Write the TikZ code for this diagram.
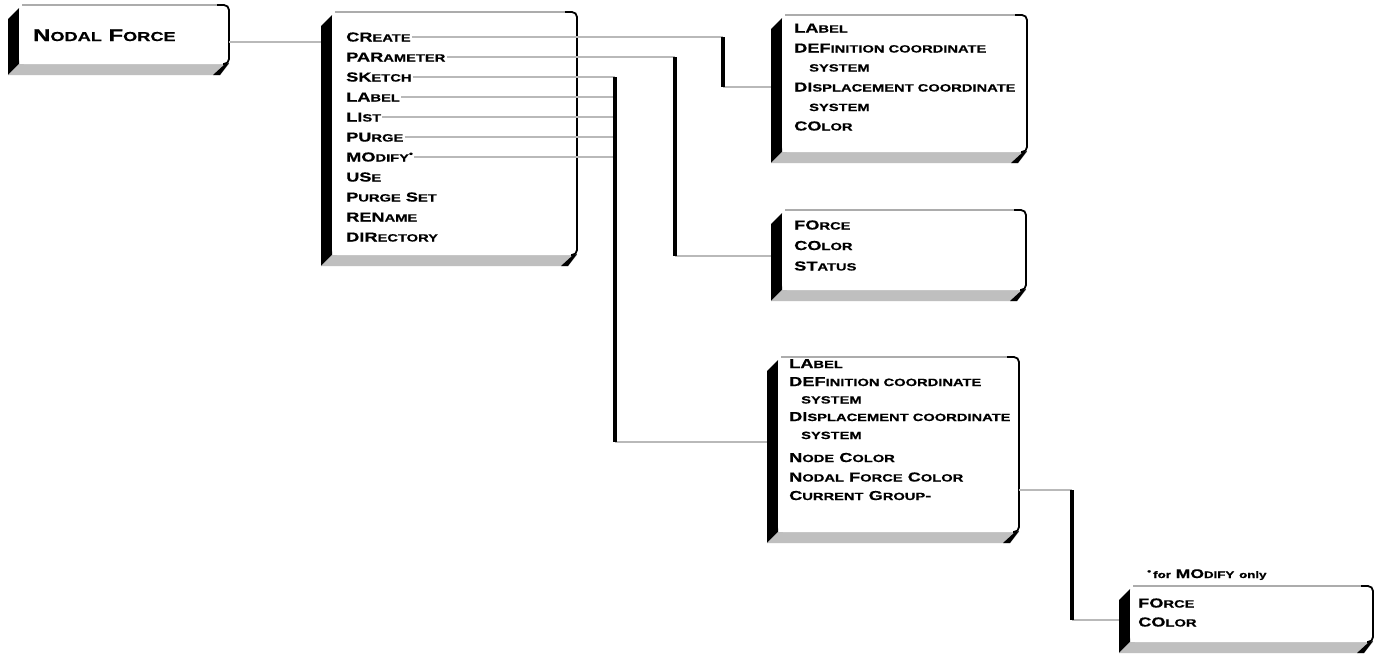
\documentclass[tikz,border=0pt]{standalone}
\usepackage{fontspec}
\setmainfont[FakeStretch=1.4, BoldFeatures={FakeBold=0.6}]{Liberation Sans}
\usetikzlibrary{calc}
\newcommand\sm[1]{{\fontsize{10.5}{10.5}\selectfont #1}}
\newcommand\smb[1]{{\fontsize{13}{13}\selectfont #1}}
\newcommand\smf[1]{{\fontsize{9.5}{9.5}\selectfont #1}}
\tikzset{
  face/.style={fill=white, draw=none, rounded corners=5pt, inner sep=0pt, outer sep=0pt, anchor=north west},
  item/.style={anchor=base west, inner sep=1pt, font=\fontsize{13}{13}\selectfont\bfseries},
  hline/.style={draw=gray!55, line width=1.8pt},
  vline/.style={draw=black, line width=3.2pt},
  side/.style={fill=black},
  bottomshade/.style={fill=gray!50},
  topedge/.style={draw=gray!65, line width=1.1pt},
  rightedge/.style={draw=black, line width=1.8pt, rounded corners=5pt},
}
% #1 name, #2 left, #3 top, #4 right, #5 bottom (pixels, y downwards)
\newcommand\solidbox[5]{%
  \fill[side] (#2,{#3+3}) -- ({#2-11},{#3+14}) -- ({#2-11},{#5+11}) -- (#2,#5) -- cycle;
  \fill[bottomshade] (#2,#5) -- ({#2-11},{#5+11}) -- ({#4-9},{#5+11}) -- (#4,#5) -- cycle;
  \fill[side] (#4,{#5-1}) -- ({#4-9},{#5+11}) -- ({#4-16},{#5+11}) -- ({#4-4},#5) -- cycle;
  \node[face, minimum width={(#4-#2)*1pt}, minimum height={(#5-#3)*1pt}] (#1) at (#2,#3) {};
  \draw[topedge] ({#2+3},#3) -- ({#4-8},#3);
  \draw[rightedge] ({#4-12},#3) -- (#4,#3) -- (#4,#5) -- ({#4-6},#5);
}
\begin{document}
\begin{tikzpicture}[x=1pt,y=-1pt]
\useasboundingbox[fill=white] (0,0) rectangle (1384,654);

% boxes
\solidbox{nf}{19}{5}{229}{64}
\solidbox{menu}{332}{12}{577}{255}
\solidbox{A}{782}{15}{1027}{152}
\solidbox{B}{782}{210}{1026}{290}
\solidbox{C}{778}{357}{1019}{532}
\solidbox{D}{1130}{586}{1373}{642}

% title box
\node[anchor=base west, inner sep=1pt, font=\fontsize{17}{17}\selectfont\bfseries] (t0) at (32,41) {N\smb{ODAL} F\smb{ORCE}};

% menu items
\node[item] (m1) at (345,41.5) {CR\sm{EATE}};
\node[item] (m2) at (345,61.5) {PAR\sm{AMETER}};
\node[item] (m3) at (345,81.5) {SK\sm{ETCH}};
\node[item] (m4) at (345,101.5) {LA\sm{BEL}};
\node[item] (m5) at (345,121.5) {LI\sm{ST}};
\node[item] (m6) at (345,141.5) {PU\sm{RGE}};
\node[item] (m7) at (345,161.5) {MO\sm{DIFY}\raisebox{5pt}{\fontsize{8}{8}\selectfont •}};
\node[item] (m8) at (345,181.5) {US\sm{E}};
\node[item] (m9) at (345,201.5) {P\sm{URGE} S\sm{ET}};
\node[item] (m10) at (345,221.5) {REN\sm{AME}};
\node[item] (m11) at (345,241.5) {DIR\sm{ECTORY}};

% box A
\node[item] (a1) at (793,32.5) {LA\sm{BEL}};
\node[item] (a2) at (793,52.5) {DEF\sm{INITION COORDINATE}};
\node[item] (a3) at (808,71.5) {\sm{SYSTEM}};
\node[item] (a4) at (793,91.5) {DI\sm{SPLACEMENT COORDINATE}};
\node[item] (a5) at (808,111) {\sm{SYSTEM}};
\node[item] (a6) at (793,130.5) {CO\sm{LOR}};

% box B
\node[item] (b1) at (793,229.5) {FO\sm{RCE}};
\node[item] (b2) at (793,250) {CO\sm{LOR}};
\node[item] (b3) at (793,270.5) {ST\sm{ATUS}};

% box C
\node[item] (c1) at (788,368) {LA\sm{BEL}};
\node[item] (c2) at (788,386) {DEF\sm{INITION COORDINATE}};
\node[item] (c3) at (800,403.5) {\sm{SYSTEM}};
\node[item] (c4) at (788,421) {DI\sm{SPLACEMENT COORDINATE}};
\node[item] (c5) at (800,439) {\sm{SYSTEM}};
\node[item] (c6) at (788,462) {N\sm{ODE} C\sm{OLOR}};
\node[item] (c7) at (788,481.5) {N\sm{ODAL} F\sm{ORCE} C\sm{OLOR}};
\node[item] (c8) at (788,500) {C\sm{URRENT} G\sm{ROUP}-};

% box D
\node[item] (d1) at (1137,607.5) {FO\sm{RCE}};
\node[item] (d2) at (1137,626.5) {CO\sm{LOR}};

% footnote
\node[anchor=base west, inner sep=1pt, font=\fontsize{12.5}{12.5}\selectfont\bfseries] (fn) at (1146,578)
  {\raisebox{4pt}{\fontsize{8}{8}\selectfont •}\,\smf{for} MO\smf{DIFY} \smf{only}};

% connector coordinates
\coordinate (inMenu) at (321,42);
\coordinate (busA) at (723,87);
\coordinate (inA) at (771,87);
\coordinate (busB) at (675,256);
\coordinate (inB) at (771,256);
\coordinate (busC) at (615,442);
\coordinate (inC) at (767,442);
\coordinate (outC) at (1019,490);
\coordinate (busD) at (1072,620);
\coordinate (inD) at (1119,620);

% title -> menu
\draw[hline] (nf.east |- inMenu) -- (inMenu);

% horizontals
\draw[hline] (m1.east) -- (m1.east -| busA);
\draw[hline] (busA) -- (inA);
\draw[hline] (m2.east) -- (m2.east -| busB);
\draw[hline] (busB) -- (inB);
\foreach \m in {m3,m4,m5,m6,m7}{
  \draw[hline] (\m.east) -- (\m.east -| busC);
}
\draw[hline] (busC) -- (inC);
\draw[hline] (outC) -- (outC -| busD);
\draw[hline] (busD) -- (inD);

% verticals
\draw[vline] (m1.east -| busA) -- (busA);
\draw[vline] (m2.east -| busB) -- (busB);
\draw[vline] (m3.east -| busC) -- (busC);
\draw[vline] (outC -| busD) -- (busD);
\end{tikzpicture}
\end{document}
